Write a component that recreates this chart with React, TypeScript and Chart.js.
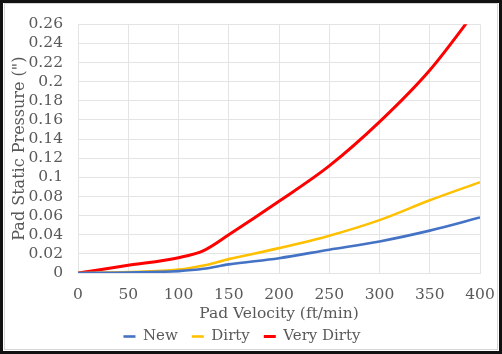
import React, { useEffect, useRef } from "react";
import { Chart, registerables } from "chart.js";

Chart.register(...registerables);

const velocity = [0, 50, 100, 125, 150, 200, 250, 300, 350, 400];
const newPad = [0, 0.0005, 0.002, 0.0044, 0.009, 0.0155, 0.0244, 0.033, 0.0443, 0.058];
const dirtyPad = [0, 0.001, 0.0035, 0.0078, 0.0145, 0.026, 0.039, 0.0553, 0.076, 0.095];
const veryDirtyPad = [0, 0.008, 0.016, 0.0235, 0.04, 0.075, 0.112, 0.158, 0.212, 0.28];

const seriesNames = ["New", "Dirty", "Very Dirty"];
const seriesColors = ["#4472C4", "#FFC000", "#FF0000"];

const X_MIN = 0;
const X_MAX = 400;
const X_STEP = 50;
const Y_MIN = 0;
const Y_MAX = 0.26;
const Y_STEP = 0.02;

const xTitle = "Pad Velocity (ft/min)";
const yTitle = 'Pad Static Pressure (")';

const FONT = "'DejaVu Serif', serif";
const TEXT = "#595959";
const GRID = "#e4e4e4";

const framePlugin = {
  id: "frame",
  beforeDraw(chart: any) {
    const { ctx, width, height } = chart;
    ctx.save();
    ctx.fillStyle = "#ffffff";
    ctx.fillRect(0, 0, width, height);
    ctx.restore();
  },
  afterDraw(chart: any) {
    const { ctx, width, height } = chart;
    ctx.save();
    ctx.strokeStyle = "#d6d6d6";
    ctx.lineWidth = 1;
    ctx.strokeRect(4.5, 3.5, width - 9, height - 8);
    ctx.strokeStyle = "#111111";
    ctx.lineWidth = 3;
    ctx.strokeRect(1.5, 1.5, width - 3, height - 3);
    ctx.restore();
  },
};

export default function App() {
  const ref = useRef<HTMLCanvasElement>(null);

  useEffect(() => {
    document.body.style.margin = "0";
    const canvas = ref.current!;
    const series = [newPad, dirtyPad, veryDirtyPad];
    const chart = new Chart(canvas, {
      type: "line",
      data: {
        datasets: series.map((vals, i) => ({
          label: seriesNames[i],
          data: velocity.map((v, j) => ({ x: v, y: vals[j] })),
          borderColor: seriesColors[i],
          backgroundColor: seriesColors[i],
          borderWidth: i === 2 ? 3 : 2.6,
          pointRadius: 0,
          pointHoverRadius: 0,
          cubicInterpolationMode: "monotone",
          fill: false,
          clip: 0,
        })),
      },
      options: {
        responsive: false,
        animation: false,
        devicePixelRatio: 1,
        layout: { padding: { left: 4, right: 22, top: 21, bottom: 0 } },
        plugins: {
          tooltip: { enabled: false },
          legend: {
            position: "bottom",
            labels: {
              usePointStyle: true,
              pointStyle: "line",
              pointStyleWidth: 12,
              color: TEXT,
              font: { family: FONT, size: 15 },
              padding: 14,
            },
          },
        },
        scales: {
          x: {
            type: "linear",
            min: X_MIN,
            max: X_MAX,
            ticks: {
              stepSize: X_STEP,
              color: TEXT,
              font: { family: FONT, size: 15.5 },
              padding: 13,
              maxRotation: 0,
              autoSkip: false,
            },
            grid: { color: GRID, drawTicks: false },
            border: { color: GRID },
            title: {
              display: true,
              text: xTitle,
              color: TEXT,
              font: { family: FONT, size: 15.5 },
              padding: { top: 0, bottom: -8 },
            },
            afterFit(scale: any) {
              scale.height = 42;
              scale.paddingRight = 0;
              scale.paddingLeft = 0;
            },
          },
          y: {
            min: Y_MIN,
            max: Y_MAX,
            ticks: {
              stepSize: Y_STEP,
              color: TEXT,
              font: { family: FONT, size: 15.5 },
              padding: 15,
              autoSkip: false,
              callback: (v: any) => String(Number(Number(v).toFixed(2))),
            },
            grid: { color: GRID, drawTicks: false },
            border: { color: GRID },
            title: {
              display: true,
              text: yTitle,
              color: TEXT,
              font: { family: FONT, size: 16 },
              padding: { top: 6, bottom: 0 },
            },
            afterFit(scale: any) {
              scale.width = 74;
            },
          },
        },
      },
      plugins: [framePlugin],
    });
    return () => chart.destroy();
  }, []);

  return <canvas ref={ref} width={502} height={354} style={{ display: "block", width: 502, height: 354 }} />;
}
